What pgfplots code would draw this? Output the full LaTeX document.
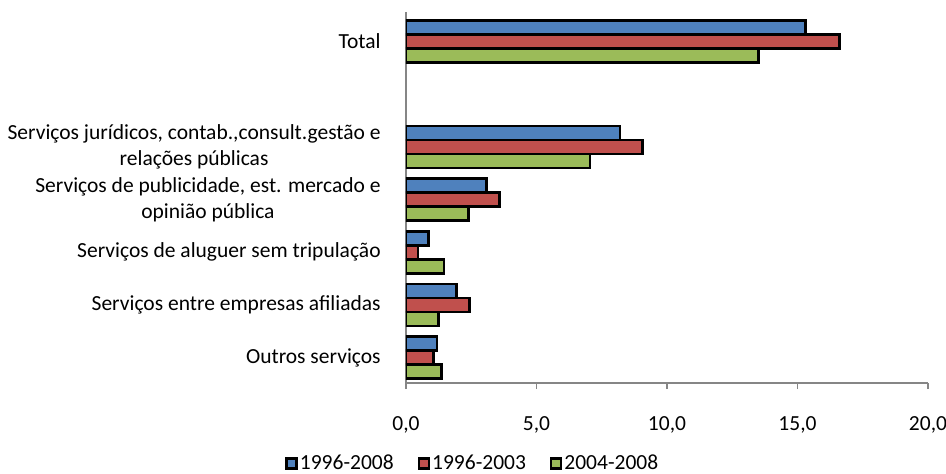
\documentclass[border=0pt]{standalone}
\usepackage{fontspec}
\setmainfont{Carlito}
\usepackage{pgfplots}
\pgfplotsset{compat=1.18}
\definecolor{cblue}{HTML}{4F81BD}
\definecolor{cred}{HTML}{C0504D}
\definecolor{cgreen}{HTML}{9BBB59}
\definecolor{axgray}{HTML}{868686}
\begin{document}
\fontsize{21.5pt}{26pt}\selectfont
\begin{tikzpicture}
\useasboundingbox (-406pt,-91pt) rectangle (540pt,383pt);
\begin{axis}[
  at={(0pt,0pt)}, anchor=south west,
  scale only axis, width=522pt, height=371pt,
  xbar, bar width=14pt,
  xmin=0, xmax=20,
  ymin=-0.56, ymax=6.48, y dir=reverse,
  enlargelimits=false,
  axis x line*=bottom, axis y line*=left,
  axis line style={axgray, line width=1.5pt},
  xtick={0,5,10,15,20},
  x tick style={axgray, line width=1.5pt},
  major tick length=6pt, tick align=outside,
  xticklabel style={font=\fontsize{21.5pt}{26pt}\selectfont, yshift=-20pt},
  /pgf/number format/.cd, fixed, fixed zerofill, precision=1, use comma, assume math mode=true,
  /pgfplots/.cd,
  ytick={0,2,3,4,5,6},
  y tick style={draw=none},
  yticklabels={Total,{Serviços jurídicos, contab.,consult.gestão e\\relações públicas},{Serviços de publicidade, est. mercado e\\opinião pública},{Serviços de aluguer sem tripulação},{Serviços entre empresas afiliadas},{Outros serviços}},
  yticklabel style={align=center, font=\fontsize{21.5pt}{26pt}\selectfont, xshift=-12pt},
  legend columns=3,
  legend style={at={(0.128,-0.217)}, anchor=center, draw=none, font=\fontsize{21.5pt}{26pt}\selectfont,
    /tikz/every even column/.append style={column sep=22pt}},
  legend image code/.code={\draw[#1,line width=2.5pt] (0pt,-5pt) rectangle (10pt,5pt);},
]
\addplot[fill=cblue, draw=black, line width=2.8pt, bar shift=14pt] coordinates {(15.3,0) (8.2,2) (3.07,3) (0.86,4) (1.94,5) (1.19,6)};
\addplot[fill=cred, draw=black, line width=2.8pt, bar shift=0pt] coordinates {(16.6,0) (9.05,2) (3.58,3) (0.46,4) (2.44,5) (1.06,6)};
\addplot[fill=cgreen, draw=black, line width=2.8pt, bar shift=-14pt] coordinates {(13.5,0) (7.05,2) (2.39,3) (1.46,4) (1.25,5) (1.37,6)};
\legend{1996-2008,1996-2003,2004-2008}
\end{axis}
\end{tikzpicture}
\end{document}
